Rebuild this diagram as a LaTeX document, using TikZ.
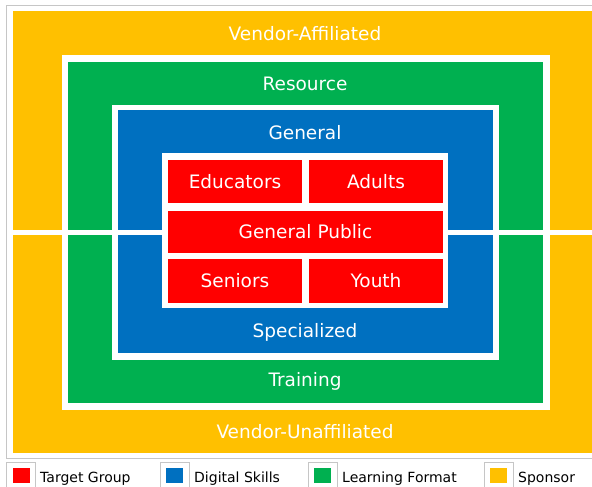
\documentclass[tikz,border=0pt]{standalone}
\usepackage{fontspec}
\setmainfont{DejaVu Sans}
\definecolor{sponsor}{HTML}{FFC000}
\definecolor{format}{HTML}{00B050}
\definecolor{skills}{HTML}{0070C0}
\definecolor{target}{HTML}{FF0000}
\begin{document}
\begin{tikzpicture}[x=1pt,y=-1pt,
  lbl/.style={text=white,font=\fontsize{18.5}{21}\selectfont,inner sep=0pt,text height=13.5pt,text depth=0pt},
  redbox/.style={lbl,fill=target,minimum height=43pt},
  leg/.style={font=\fontsize{14}{16}\selectfont,anchor=base west,inner sep=0pt},
  legframe/.style={draw=gray!45,line width=0.8pt,minimum width=29pt,minimum height=27pt,inner sep=0pt},
  legsq/.style={minimum width=17pt,minimum height=15pt,inner sep=0pt}]
\useasboundingbox (0,0) rectangle (592,487);
\fill[white] (0,0) rectangle (592,487);
\draw[gray!45,line width=0.8pt] (592,5) -- (6,5) -- (6,458) -- (592,458);
\fill[sponsor] (13,11) rectangle (592,453);
\fill[white] (62,55) rectangle (550,410);
\fill[format] (68,62) rectangle (543,403);
\fill[white] (112,105) rectangle (499,360);
\fill[skills] (118,110) rectangle (493,353);
\fill[white] (7,230) rectangle (592,235);
\fill[white] (162,153) rectangle (448,308);
% frame labels
\node[lbl] (va) at (305,33.5) {Vendor-Affiliated};
\node[lbl] (res) at (305,83.3) {Resource};
\node[lbl] (gen) at (305,132.5) {General};
\node[lbl] (spec) at (305,331) {Specialized};
\node[lbl] (tr) at (305,380) {Training};
\node[lbl] (vu) at (305,431.5) {Vendor-Unaffiliated};
% target group boxes
\node[redbox,minimum width=134pt] (edu) at (235,181.5) {Educators};
\node[redbox,minimum width=134pt] (adu) at (376,181.5) {Adults};
\node[redbox,minimum width=275pt,minimum height=42pt] (gp) at (305.5,232) {General Public};
\node[redbox,minimum width=134pt,minimum height=44pt] (sen) at (235,281) {Seniors};
\node[redbox,minimum width=134pt,minimum height=44pt] (you) at (376,281) {Youth};
% legend
\node[legframe] (lf1) at (21,475.5) {};
\node[legsq,fill=target] (ls1) at (lf1) {};
\node[leg] (lt1) at (40,482) {Target Group};
\node[legframe] (lf2) at (174.5,475.5) {};
\node[legsq,fill=skills] (ls2) at (lf2) {};
\node[leg] (lt2) at (194,482) {Digital Skills};
\node[legframe] (lf3) at (322.5,475.5) {};
\node[legsq,fill=format] (ls3) at (lf3) {};
\node[leg] (lt3) at (342,482) {Learning Format};
\node[legframe] (lf4) at (498.5,475.5) {};
\node[legsq,fill=sponsor] (ls4) at (lf4) {};
\node[leg] (lt4) at (518,482) {Sponsor};
\end{tikzpicture}
\end{document}
